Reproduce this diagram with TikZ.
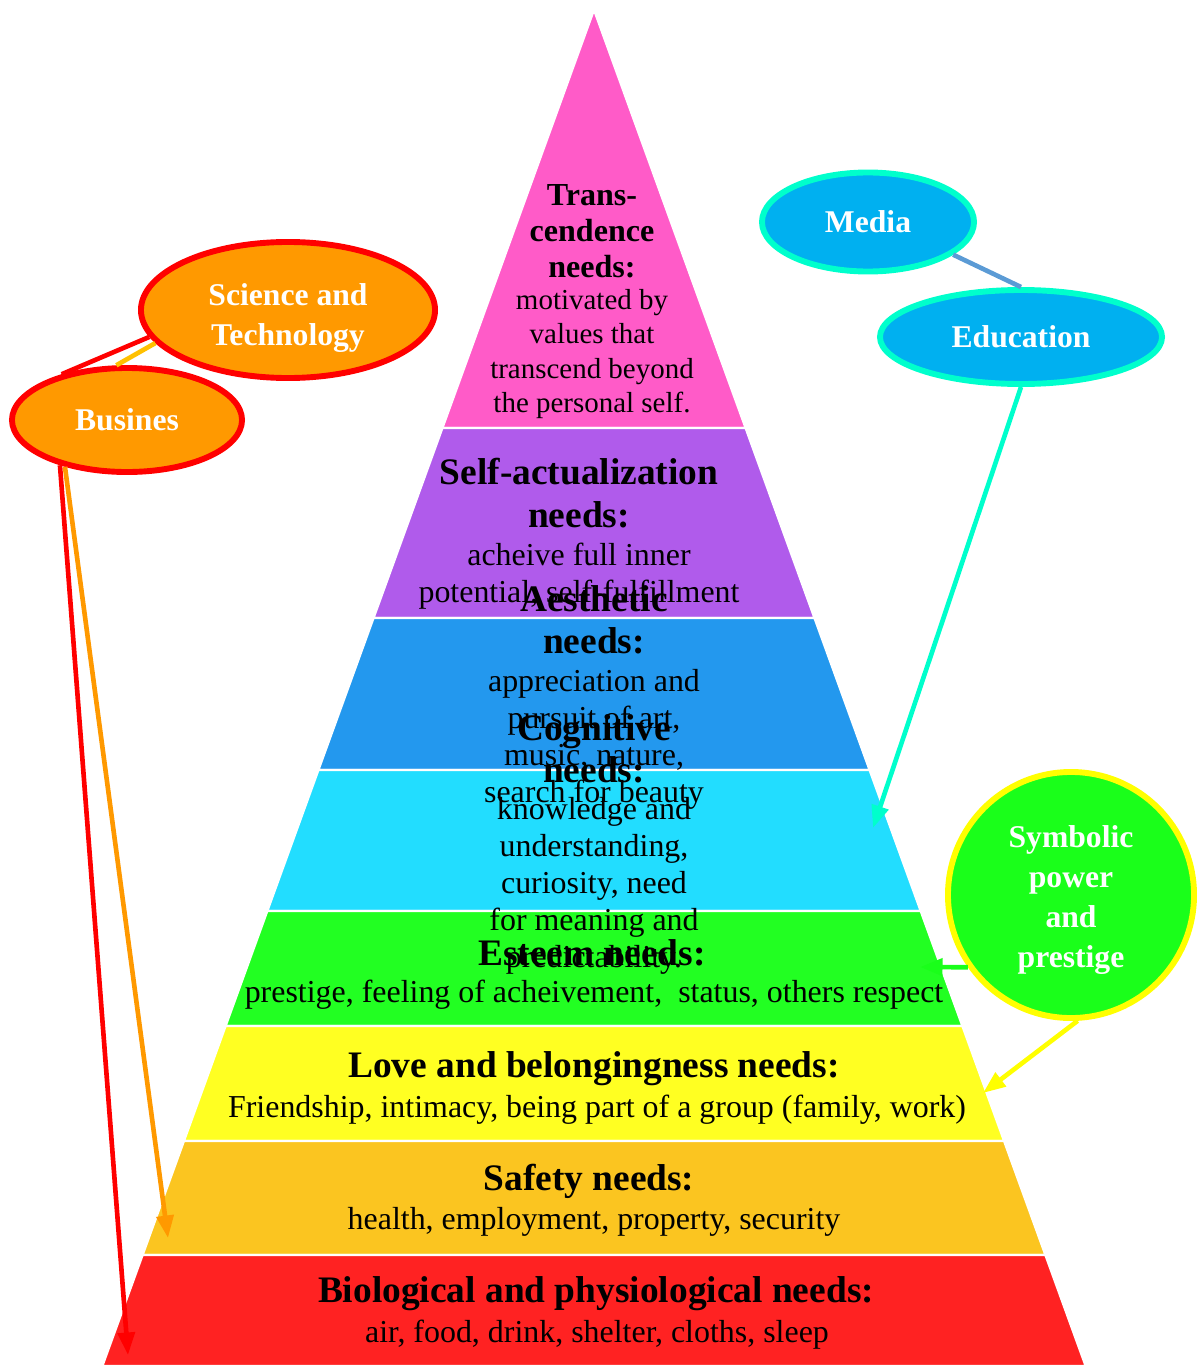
\documentclass[tikz,border=0pt]{standalone}
\usepackage{fontspec}
\setmainfont{Liberation Serif}
\usetikzlibrary{shapes.geometric,arrows.meta}

\definecolor{pinkL}{HTML}{FF5BC8}
\definecolor{purpleL}{HTML}{B05BEB}
\definecolor{blueL}{HTML}{2398EE}
\definecolor{cyanL}{HTML}{22DDFF}
\definecolor{greenL}{HTML}{22FF22}
\definecolor{yellowL}{HTML}{FFFF22}
\definecolor{goldL}{HTML}{FBC520}
\definecolor{redL}{HTML}{FF2222}
\definecolor{orangeB}{HTML}{FF9900}
\definecolor{goldB}{HTML}{FFC000}
\definecolor{skyB}{HTML}{00B0F0}
\definecolor{aquaB}{HTML}{00FFCC}
\definecolor{steelB}{HTML}{5B9BD5}
\definecolor{greenB}{HTML}{1AFF1A}
\definecolor{yellowB}{HTML}{FFFF00}

\tikzset{
  layer/.style={fill=#1, draw=white, line width=1.5pt},
  head/.style={font=\bfseries\fontsize{26.6pt}{30pt}\selectfont, align=center, inner sep=0pt},
  body/.style={font=\fontsize{22.7pt}{26.3pt}\selectfont, align=center, inner sep=0pt},
  bubble/.style={ellipse, inner sep=0pt, line width=4.2pt, text=white,
    font=\bfseries\fontsize{22.5pt}{28.5pt}\selectfont, align=center},
  link/.style={line width=3.3pt},
  tip/.style={-{Triangle[length=16pt,width=12pt]}},
}

\begin{document}
\begin{tikzpicture}[x=0.025cm, y=-0.025cm]
  \useasboundingbox (0,0) rectangle (1196,1366);
  % pyramid
  \foreach \ya/\yb/\col in {10/428/pinkL, 428/618/purpleL, 618/770/blueL, 770/911/cyanL,
      911/1026/greenL, 1026/1141/yellowL, 1141/1255/goldL, 1255/1366/redL}{
    \pgfmathsetmacro\wa{0.3625*(\ya-10)}
    \pgfmathsetmacro\wb{0.3625*(\yb-10)}
    \draw[layer=\col] (594-\wa,\ya) -- (594+\wa,\ya) -- (594+\wb,\yb) -- (594-\wb,\yb) -- cycle;
  }

  % needs
  \node[head, font=\bfseries\fontsize{22.8pt}{25.6pt}\selectfont] (transH) at (592,231) {Trans-\\cendence\\needs:};
  \node[body, font=\fontsize{20.6pt}{24.5pt}\selectfont] (transB) at (592,354) {motivated by\\values that\\transcend beyond\\the personal self.};
  \node[head] (selfH) at (579,493) {Self-actualization\\needs:};
  \node[body] (selfB) at (579,576) {acheive full inner\\potential, self-fulfillment};
  \node[head] (aesH) at (594,620) {Aesthetic\\needs:};
  \node[body] (aesB) at (594,739) {appreciation and\\pursuit of art,\\music, nature,\\search for beauty};
  \node[head] (cogH) at (594,749) {Cognitive\\needs:};
  \node[body] (cogB) at (594,886) {knowledge and\\understanding,\\curiosity, need\\for meaning and\\predictability.};
  \node[head] (estH) at (592,953) {Esteem needs:};
  \node[body] (estB) at (594,995) {prestige, feeling of acheivement,\ \ status, others respect};
  \node[head] (loveH) at (594,1069) {Love and belongingness needs:};
  \node[body] (loveB) at (597,1110) {Friendship, intimacy, being part of a group (family, work)};
  \node[head] (safeH) at (589,1181) {Safety needs:};
  \node[body] (safeB) at (594,1222) {health, employment, property, security};
  \node[head] (bioH) at (596,1294) {Biological and physiological needs:};
  \node[body] (bioB) at (597,1335) {air, food, drink, shelter, cloths, sleep};

  % bubbles
  \node[bubble, fill=orangeB, draw=red, minimum width=7.35cm, minimum height=3.4cm, text height=55pt] (sci) at (288,310) {Science and\\Technology};
  \node[bubble, fill=orangeB, draw=red, minimum width=5.75cm, minimum height=2.6cm] (bus) at (127,420) {Busines};
  \node[bubble, fill=skyB, draw=aquaB, minimum width=5.3cm, minimum height=2.475cm] (media) at (868,222) {Media};
  \node[bubble, fill=skyB, draw=aquaB, minimum width=7.05cm, minimum height=2.35cm] (edu) at (1021,337) {Education};
  \node[bubble, circle, fill=greenB, draw=yellowB, minimum size=6.15cm, text height=108pt] (sym) at (1071,895) {Symbolic\\power\\and\\prestige};

  % links
  \coordinate (busEnd1) at (128,1355);
  \coordinate (busEnd2) at (168,1238);
  \coordinate (eduEnd) at (873,828);
  \coordinate (symEnd1) at (920,967);
  \coordinate (symEnd2) at (983,1093);
  \draw[link, red] (sci.-169) -- (bus.145);
  \draw[link, goldB] (sci.-166) -- (bus.101);
  \draw[link, red, tip] (bus.-146) -- (busEnd1);
  \draw[link, orangeB, tip] (bus.-143) -- (busEnd2);
  \draw[link, steelB] (media.-21) -- (edu.90);
  \draw[link, aquaB, tip] (edu.south) -- (eduEnd);
  \draw[link, greenB, tip] (sym.-145) -- (symEnd1);
  \draw[link, yellowB, tip] (sym.-87) -- (symEnd2);
\end{tikzpicture}
\end{document}
